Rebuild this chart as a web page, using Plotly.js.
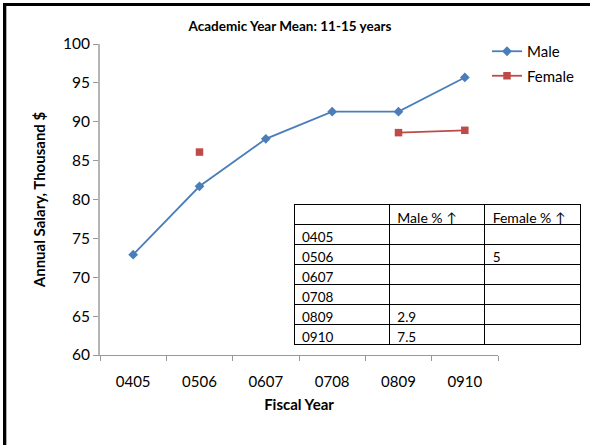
<!DOCTYPE html>
<html>
<head>
<meta charset="utf-8">
<script src="https://cdn.plot.ly/plotly-3.0.1.min.js"></script>
<style>
html,body{margin:0;padding:0;background:#fff;}
#wrap{position:relative;width:590px;height:445px;overflow:hidden;}
#chart{position:absolute;left:0;top:0;width:590px;height:445px;}
#frame{position:absolute;left:3px;top:3px;width:600px;height:500px;border-left:3px solid #000;border-top:3px solid #000;pointer-events:none;}
#frame2{position:absolute;left:6px;top:6px;width:1px;height:500px;background:#b0b0b0;pointer-events:none;}
</style>
</head>
<body>
<div id="wrap"><div id="chart"></div><div id="frame"></div><div id="frame2"></div></div>
<script>
const years = ["0405", "0506", "0607", "0708", "0809", "0910"];
const male = [72.9, 81.7, 87.8, 91.3, 91.3, 95.7];
const female = [null, 86.1, null, null, 88.6, 88.9];
const tableHeader = ["", "Male % \u2191", "Female % \u2191"];
const maleIncrease = ["", "", "", "", "2.9", "7.5"];
const femaleIncrease = ["", "5", "", "", "", ""];

const FONT = "Lato, 'Liberation Sans', sans-serif";
const W = 590, H = 445, L = 100, R = 5, T = 44, B = 90;
const pw = W - L - R, ph = H - T - B;
const px = x => (x - L) / pw;
const py = y => (H - B - y) / ph;

const traces = [
  {
    type: "scatter", mode: "lines+markers", name: "Male", x: years, y: male,
    line: {color: "#4a7ebb", width: 1.8},
    marker: {symbol: "diamond", size: 7.5, color: "#4a7ebb"},
    legendgroup: "m"
  },
  {
    type: "scatter", mode: "lines+markers", name: "Female", x: years, y: female,
    connectgaps: false,
    line: {color: "#be4b48", width: 1.8},
    marker: {symbol: "square", size: 7.5, color: "#be4b48"},
    legendgroup: "f"
  },
  {
    type: "table",
    domain: {x: [px(294), px(580)], y: [py(346), py(204)]},
    columnwidth: [1, 1, 1],
    header: {
      values: tableHeader,
      align: "left",
      height: 20,
      line: {color: "#000", width: 1},
      fill: {color: "#fff"},
      font: {family: FONT, size: 14, color: "#000"}
    },
    cells: {
      values: [years, maleIncrease, femaleIncrease],
      align: "left",
      height: 20,
      line: {color: "#000", width: 1},
      fill: {color: "#fff"},
      font: {family: FONT, size: 13.5, color: "#000"}
    }
  }
];

const layout = {
  width: W, height: H,
  margin: {l: L, r: R, t: T, b: B},
  paper_bgcolor: "#fff", plot_bgcolor: "#fff",
  font: {family: FONT, color: "#000"},
  showlegend: true,
  title: {
    text: "<b>Academic Year Mean: 11-15 years</b>",
    font: {family: FONT, size: 13.5, color: "#000"},
    x: 290 / W, xanchor: "center", xref: "container",
    y: 1 - 26 / H, yanchor: "middle", yref: "container"
  },
  xaxis: {
    domain: [0, 398 / pw],
    type: "category",
    range: [-0.5, 5.5],
    tickson: "boundaries",
    ticks: "outside", ticklen: 5, tickcolor: "#999",
    showline: true, linecolor: "#999", linewidth: 1.2,
    showgrid: false, zeroline: false,
    ticklabelstandoff: 13,
    tickfont: {family: FONT, size: 15, color: "#000"},
    title: {text: "<b>Fiscal Year</b>", font: {family: FONT, size: 15, color: "#000"}, standoff: 10},
    fixedrange: true
  },
  yaxis: {
    range: [60, 100],
    dtick: 5,
    ticks: "outside", ticklen: 5, tickcolor: "#999",
    showline: true, linecolor: "#b5b5b5", linewidth: 2,
    showgrid: false, zeroline: false,
    tickfont: {family: FONT, size: 15.5, color: "#000"},
    title: {text: "<b>Annual Salary, Thousand $</b>", font: {family: FONT, size: 15, color: "#000"}, standoff: 14},
    fixedrange: true
  },
  legend: {
    x: px(487), y: py(35), xanchor: "left", yanchor: "top",
    bgcolor: "rgba(0,0,0,0)",
    font: {family: FONT, size: 15, color: "#000"},
    traceorder: "grouped", tracegroupgap: 2,
    itemwidth: 30
  }
};

Plotly.newPlot("chart", traces, layout, {displayModeBar: false, staticPlot: true});
</script>
</body>
</html>
